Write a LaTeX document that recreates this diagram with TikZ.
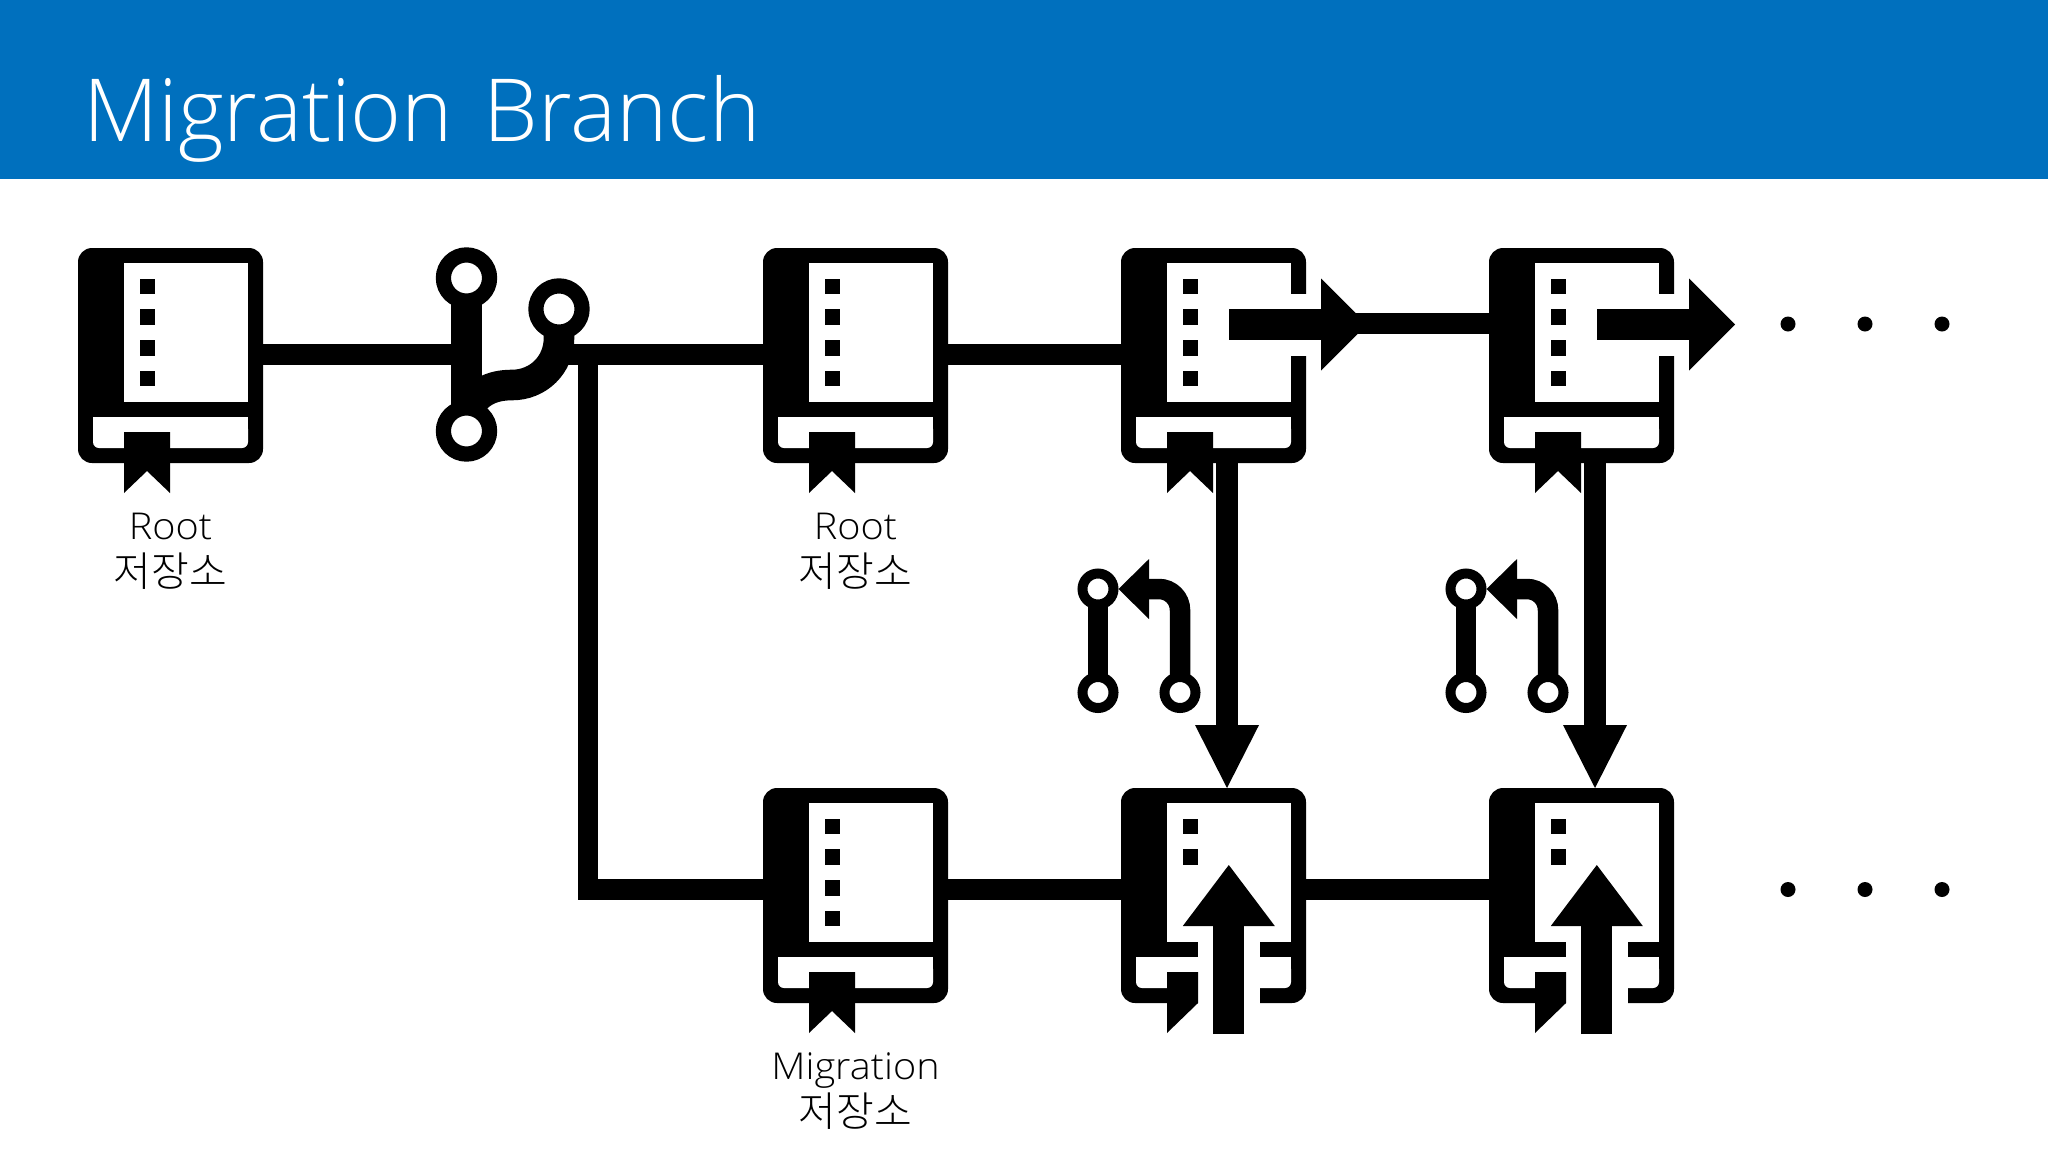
\documentclass[tikz,border=0pt]{standalone}
\usepackage{fontspec}
\usetikzlibrary{arrows.meta,backgrounds}
\newfontfamily\titlefont{Open Sans Light}
\newfontfamily\labelfont[FakeStretch=1.07]{Open Sans Light}
\newfontfamily\cjkfont{Noto Sans CJK KR Light}
\definecolor{headerblue}{HTML}{0070BE}
\tikzset{
  x=1pt,y=-1pt,
  bookbox/.style={anchor=north west,fill=black,rounded corners=14pt,minimum width=185pt,minimum height=215pt,inner sep=0pt,outer sep=0pt},
  bigring/.style={circle,draw=black,fill=white,line width=15.2pt,minimum size=46.2pt,inner sep=0pt},
  smallring/.style={circle,draw=black,fill=white,line width=10pt,minimum size=31pt,inner sep=0pt},
  dotnode/.style={circle,fill=black,minimum size=15pt,inner sep=0pt},
  linkline/.style={line width=21pt,black},
  stemline/.style={line width=30.6pt,black},
  thinstem/.style={line width=20pt,black},
  downarrow/.style={line width=22pt,black,-{Triangle[width=64pt,length=63pt,line width=0pt]}},
  sidearrow/.style={line width=31pt,black,-{Triangle[width=92pt,length=46pt,line width=0pt]}},
  uparrow/.style={line width=31pt,black,-{Triangle[width=92pt,length=61pt,line width=0pt]}},
  backarrow/.style={line width=20.5pt,black,rounded corners=21pt,-{Triangle[width=60pt,length=30.5pt,line width=0pt]}},
  latintext/.style={anchor=base,font=\labelfont\fontsize{37}{37}\selectfont,inner sep=0pt},
  hangultext/.style={anchor=center,font=\cjkfont\fontsize{41}{41}\selectfont,inner sep=0pt},
}
% page, slot and the two top marks shared by all books
\newcommand\bookface[1]{%
  \begin{scope}[shift={(#1.north west)}]
    \fill[white] (46,15) rectangle (170,154);
    \fill[white,rounded corners=6pt] (15,175) rectangle (170,200);
    \fill[white] (15,169) rectangle (170,185);
    \fill[black] (62,31) rectangle (77,46);
    \fill[black] (62,61) rectangle (77,77);
  \end{scope}}
\newcommand\bookmarks[1]{%
  \begin{scope}[shift={(#1.north west)}]
    \fill[black] (62,92) rectangle (77,108);
    \fill[black] (62,123) rectangle (77,138);
    \fill[black] (46,184) -- (92,184) -- (92,245) -- (69,223) -- (46,245) -- cycle;
  \end{scope}}
\newcommand\plainbook[1]{\bookface{#1}\bookmarks{#1}}
\newcommand\sidebook[1]{%
  \bookface{#1}\bookmarks{#1}%
  \begin{scope}[shift={(#1.north west)}]
    \fill[white] (169,46) rectangle (186,108);
    \draw[sidearrow] (108,76.5) -- (246,76.5);
  \end{scope}}
\newcommand\upbook[1]{%
  \bookface{#1}%
  \begin{scope}[shift={(#1.north west)}]
    \fill[white] (77,153) rectangle (139,216);
    \fill[black] (46,184) -- (77,184) -- (77,215) -- (46,245) -- cycle;
    \draw[uparrow] (107.8,246) -- (107.8,77);
  \end{scope}}
\begin{document}
\begin{tikzpicture}
  \useasboundingbox (0,0) rectangle (2048,1152);
  \fill[headerblue] (0,0) rectangle (2048,179);
  \node[anchor=base west,inner sep=0pt,text=white,font=\titlefont\fontsize{87}{87}\selectfont] (title) at (83.5,141.5) {Migration\hspace{8pt} Branch};

  % row levels
  \coordinate (rowA) at (0,354.5);
  \coordinate (rowB) at (0,889.5);
  \coordinate (rowC) at (0,323.5);

  % books
  \node[bookbox] (root1) at (78,248) {};
  \node[bookbox] (root2) at (763,248) {};
  \node[bookbox] (rel1) at (1121,248) {};
  \node[bookbox] (rel2) at (1489,248) {};
  \node[bookbox] (mig) at (763,788) {};
  \node[bookbox] (up1) at (1121,788) {};
  \node[bookbox] (up2) at (1489,788) {};
  \plainbook{root1}
  \plainbook{root2}
  \plainbook{mig}
  \sidebook{rel1}
  \sidebook{rel2}
  \upbook{up1}
  \upbook{up2}

  % labels
  \node[latintext] (l1) at (170.5,539) {Root};
  \node[hangultext] (h1) at (170.5,571) {저장소};
  \node[latintext] (l2) at (855.5,539) {Root};
  \node[hangultext] (h2) at (855.5,571) {저장소};
  \node[latintext] (l3) at (855.5,1079) {Migration};
  \node[hangultext] (h3) at (855.5,1111) {저장소};

  % branch icon
  \node[bigring] (brtop) at (466.5,278) {};
  \node[bigring] (brbot) at (466.5,431) {};
  \node[bigring] (brright) at (559,309) {};
  \coordinate (trunk) at (588,344);
  \coordinate (corner) at (588,889.5);
  \begin{scope}[on background layer]
    \fill[white] (0,179) rectangle (2048,1152);
    \draw[stemline] (brtop.center) -- (brbot.center);
    \draw[stemline] (brright.center) -- (559,338) .. controls (559,365) and (538,385) .. (512,385)
      .. controls (492,385) and (476,392) .. (466.5,412);
    \draw[linkline] (root1.east |- rowA) -- (brtop.south |- rowA);
    \draw[linkline] (brright.center |- rowA) -- (root2.west |- rowA);
    \draw[line width=20.5pt,black] (trunk |- rowA) -- (corner) -- (mig.west |- rowB);
    \draw[linkline] (root2.east |- rowA) -- (rel1.west |- rowA);
    \draw[linkline] (mig.east |- rowB) -- (up1.west |- rowB);
    \draw[linkline] (up1.east |- rowB) -- (up2.west |- rowB);
    \draw[linkline] (rel1.north west) ++(230,75.5) -- (rel2.west |- rowC);
  \end{scope}

  % promotion arrows
  \coordinate (d1) at (1227,463);
  \coordinate (d2) at (1595,463);
  \draw[downarrow] (d1) -- (d1 |- up1.north);
  \draw[downarrow] (d2) -- (d2 |- up2.north);

  % revert icons
  \node[smallring] (t1) at (1098,589) {};
  \node[smallring] (b1) at (1098,692.5) {};
  \node[smallring] (s1) at (1180,692.5) {};
  \begin{scope}[on background layer]
    \draw[thinstem] (t1.center) -- (b1.center);
    \draw[backarrow] (s1.center) |- (t1.east);
  \end{scope}
  \node[smallring] (t2) at (1466,589) {};
  \node[smallring] (b2) at (1466,692.5) {};
  \node[smallring] (s2) at (1548,692.5) {};
  \begin{scope}[on background layer]
    \draw[thinstem] (t2.center) -- (b2.center);
    \draw[backarrow] (s2.center) |- (t2.east);
  \end{scope}

  % continuation dots
  \node[dotnode] (a1) at (1788,324) {};
  \node[dotnode] (a2) at (1865,324) {};
  \node[dotnode] (a3) at (1942,324) {};
  \node[dotnode] (c1) at (1788,889.5) {};
  \node[dotnode] (c2) at (1865,889.5) {};
  \node[dotnode] (c3) at (1942,889.5) {};
\end{tikzpicture}
\end{document}
